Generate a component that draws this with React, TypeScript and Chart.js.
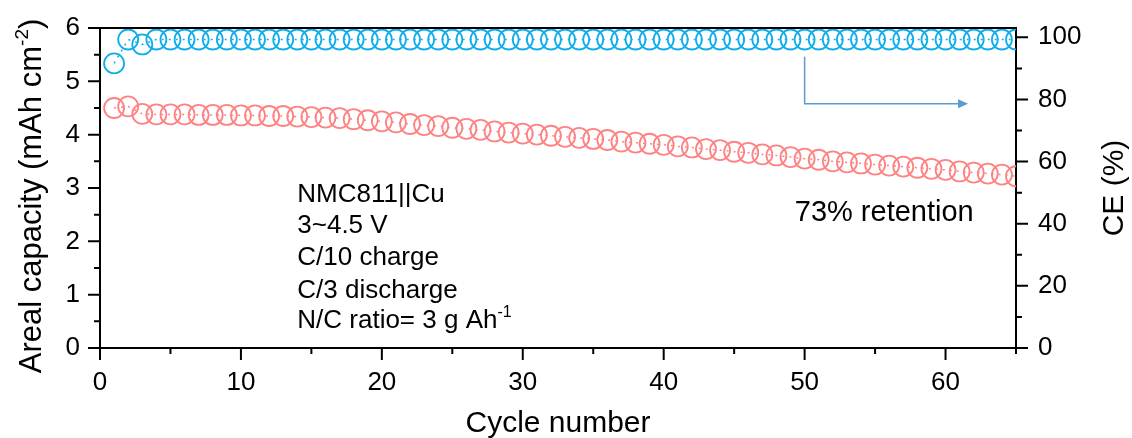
import { useEffect, useRef } from "react";
import { Chart, registerables } from "chart.js";

Chart.register(...registerables);

// Cycle index, discharge areal capacity (mAh cm^-2) and coulombic efficiency (%)
const cycleNumbers = [
  1, 2, 3, 4, 5, 6, 7, 8, 9, 10, 11, 12, 13, 14, 15, 16, 17, 18, 19, 20, 21, 22,
  23, 24, 25, 26, 27, 28, 29, 30, 31, 32, 33, 34, 35, 36, 37, 38, 39, 40, 41, 42,
  43, 44, 45, 46, 47, 48, 49, 50, 51, 52, 53, 54, 55, 56, 57, 58, 59, 60, 61, 62,
  63, 64, 65,
];

const arealCapacity = [
  4.5, 4.53, 4.39, 4.38, 4.38, 4.38, 4.37, 4.37, 4.37, 4.36, 4.36, 4.35, 4.35,
  4.34, 4.33, 4.32, 4.31, 4.29, 4.27, 4.25, 4.23, 4.2, 4.18, 4.16, 4.13, 4.11,
  4.09, 4.06, 4.04, 4.02, 4.0, 3.98, 3.96, 3.94, 3.92, 3.9, 3.87, 3.85, 3.83,
  3.81, 3.78, 3.76, 3.73, 3.71, 3.68, 3.66, 3.63, 3.61, 3.58, 3.55, 3.53, 3.5,
  3.48, 3.46, 3.44, 3.42, 3.4, 3.38, 3.36, 3.34, 3.31, 3.29, 3.27, 3.25, 3.22,
];

const coulombicEfficiency = [
  91.6, 99.3, 97.7, 99.3, 99.3, 99.3, 99.3, 99.3, 99.3, 99.3, 99.3, 99.3, 99.3,
  99.3, 99.3, 99.3, 99.3, 99.3, 99.3, 99.3, 99.3, 99.3, 99.3, 99.3, 99.3, 99.3,
  99.3, 99.3, 99.3, 99.3, 99.3, 99.3, 99.3, 99.3, 99.3, 99.3, 99.3, 99.3, 99.3,
  99.3, 99.3, 99.3, 99.3, 99.3, 99.3, 99.3, 99.3, 99.3, 99.3, 99.3, 99.3, 99.3,
  99.3, 99.3, 99.3, 99.3, 99.3, 99.3, 99.3, 99.3, 99.3, 99.3, 99.3, 99.3, 99.3,
];

const xTickValues = [0, 10, 20, 30, 40, 50, 60];
const capacityTickValues = [0, 1, 2, 3, 4, 5, 6];
const ceTickValues = [0, 20, 40, 60, 80, 100];

const conditionLines = [
  "NMC811||Cu",
  "3~4.5 V",
  "C/10 charge",
  "C/3 discharge",
  "N/C ratio= 3 g Ah",
];
const conditionSuperscript = "-1";
const retentionLabel = "73% retention";

const FONT = "'Liberation Sans', Arial, sans-serif";
const RED = "#FF8282";
const BLUE = "#0FAEEB";
const ARROW = "#5B9BD5";

type Segment = { text: string; sup?: boolean };

function drawRich(
  ctx: CanvasRenderingContext2D,
  segs: Segment[],
  size: number,
  x: number,
  y: number,
  align: "left" | "center"
) {
  const supSize = Math.round(size * 0.62);
  let total = 0;
  const widths = segs.map((s) => {
    ctx.font = `${s.sup ? supSize : size}px ${FONT}`;
    const w = ctx.measureText(s.text).width;
    total += w;
    return w;
  });
  let cx = align === "center" ? x - total / 2 : x;
  ctx.textBaseline = "alphabetic";
  ctx.textAlign = "left";
  segs.forEach((s, i) => {
    ctx.font = `${s.sup ? supSize : size}px ${FONT}`;
    ctx.fillText(s.text, cx, s.sup ? y - size * 0.42 : y);
    cx += widths[i];
  });
}

// fixed axis footprints so the plot frame sits at a constant place
function fixSize(dim: "width" | "height", value: number) {
  return (s: any) => {
    s[dim] = value;
    s.paddingTop = 0;
    s.paddingBottom = 0;
    s.paddingLeft = 0;
    s.paddingRight = 0;
  };
}

const decorPlugin = {
  id: "decor",
  afterDraw(chart: any) {
    const { ctx, chartArea } = chart;
    const xs = chart.scales.x;
    const ys = chart.scales.y;
    const y1 = chart.scales.y1;
    ctx.save();
    ctx.strokeStyle = "#000";
    ctx.fillStyle = "#000";
    ctx.lineWidth = 2;

    // top frame line
    ctx.beginPath();
    ctx.moveTo(chartArea.left - 1, chartArea.top);
    ctx.lineTo(chartArea.right + 1, chartArea.top);
    ctx.stroke();

    // tick marks (major + minor)
    ctx.beginPath();
    for (let v = 0; v <= 65; v += 5) {
      const px = xs.getPixelForValue(v);
      const len = v % 10 === 0 ? 12 : 6;
      ctx.moveTo(px, chartArea.bottom);
      ctx.lineTo(px, chartArea.bottom + len);
    }
    for (let i = 0; i <= 12; i++) {
      const v = i * 0.5;
      const py = ys.getPixelForValue(v);
      const len = i % 2 === 0 ? 12 : 6;
      ctx.moveTo(chartArea.left, py);
      ctx.lineTo(chartArea.left - len, py);
    }
    for (let v = 0; v <= 100; v += 10) {
      const py = y1.getPixelForValue(v);
      const len = v % 20 === 0 ? 12 : 6;
      ctx.moveTo(chartArea.right, py);
      ctx.lineTo(chartArea.right + len, py);
    }
    ctx.stroke();

    // axis titles
    ctx.save();
    ctx.translate(31, 196);
    ctx.rotate(-Math.PI / 2);
    drawRich(
      ctx,
      [
        { text: "Areal capacity (mAh cm" },
        { text: "-2", sup: true },
        { text: ")" },
      ],
      31,
      0,
      10,
      "center"
    );
    ctx.restore();

    ctx.save();
    ctx.translate(1113, (chartArea.top + chartArea.bottom) / 2);
    ctx.rotate(-Math.PI / 2);
    drawRich(ctx, [{ text: "CE (%)" }], 30, 0, 10, "center");
    ctx.restore();

    drawRich(
      ctx,
      [{ text: "Cycle number" }],
      30,
      (chartArea.left + chartArea.right) / 2,
      432,
      "center"
    );

    // cell conditions
    const tx = xs.getPixelForValue(14);
    const lineYs = [2.73, 2.16, 1.56, 0.94, 0.37];
    conditionLines.forEach((line, i) => {
      const segs: Segment[] = [{ text: line }];
      if (i === conditionLines.length - 1)
        segs.push({ text: conditionSuperscript, sup: true });
      drawRich(ctx, segs, 26, tx, ys.getPixelForValue(lineYs[i]), "left");
    });

    drawRich(
      ctx,
      [{ text: retentionLabel }],
      29,
      xs.getPixelForValue(49.3),
      ys.getPixelForValue(2.38),
      "left"
    );

    // arrow pointing CE series to the right axis
    const ax = xs.getPixelForValue(50);
    const ay0 = ys.getPixelForValue(5.46);
    const ay1 = ys.getPixelForValue(4.58);
    const ax1 = xs.getPixelForValue(61.6);
    ctx.strokeStyle = ARROW;
    ctx.fillStyle = ARROW;
    ctx.lineWidth = 1.5;
    ctx.beginPath();
    ctx.moveTo(ax, ay0);
    ctx.lineTo(ax, ay1);
    ctx.lineTo(ax1 - 8, ay1);
    ctx.stroke();
    ctx.beginPath();
    ctx.moveTo(ax1, ay1);
    ctx.lineTo(ax1 - 10, ay1 - 4.5);
    ctx.lineTo(ax1 - 10, ay1 + 4.5);
    ctx.closePath();
    ctx.fill();

    ctx.restore();
  },
};

export default function App() {
  const canvasRef = useRef<HTMLCanvasElement | null>(null);

  useEffect(() => {
    const canvas = canvasRef.current;
    if (!canvas) return;
    const tickFont = { family: FONT, size: 26 };
    const chart = new Chart(canvas, {
      type: "line",
      data: {
        datasets: [
          {
            label: "Areal capacity",
            data: cycleNumbers.map((c, i) => ({ x: c, y: arealCapacity[i] })),
            yAxisID: "y",
            borderColor: RED,
            backgroundColor: "rgba(0,0,0,0)",
            borderWidth: 1.5,
            borderDash: [2, 5],
            pointStyle: "circle",
            pointRadius: 10,
            pointBorderWidth: 1.8,
            pointBorderColor: RED,
            pointBackgroundColor: "rgba(0,0,0,0)",
            tension: 0,
          },
          {
            label: "CE",
            data: cycleNumbers.map((c, i) => ({
              x: c,
              y: coulombicEfficiency[i],
            })),
            yAxisID: "y1",
            borderColor: BLUE,
            backgroundColor: "rgba(0,0,0,0)",
            borderWidth: 1.5,
            borderDash: [2, 5],
            pointStyle: "circle",
            pointRadius: 10,
            pointBorderWidth: 1.8,
            pointBorderColor: BLUE,
            pointBackgroundColor: "rgba(0,0,0,0)",
            tension: 0,
          },
        ],
      },
      options: {
        animation: false,
        responsive: true,
        maintainAspectRatio: false,
        layout: {
          padding: { top: 28, left: 0, right: 0, bottom: 0 },
        },
        plugins: {
          legend: { display: false },
          tooltip: { enabled: false },
        },
        scales: {
          x: {
            type: "linear",
            min: 0,
            max: 65,
            afterFit: fixSize("height", 90),
            afterBuildTicks: (s: any) => {
              s.ticks = xTickValues.map((v) => ({ value: v }));
            },
            grid: { display: false, drawTicks: false },
            border: { display: true, color: "#000", width: 2 },
            ticks: {
              color: "#000",
              font: tickFont,
              padding: 19,
              autoSkip: false,
              maxRotation: 0,
            },
          },
          y: {
            type: "linear",
            position: "left",
            min: 0,
            max: 6,
            afterFit: fixSize("width", 100),
            afterBuildTicks: (s: any) => {
              s.ticks = capacityTickValues.map((v) => ({ value: v }));
            },
            grid: { display: false, drawTicks: false },
            border: { display: true, color: "#000", width: 2 },
            ticks: { color: "#000", font: tickFont, padding: 20, autoSkip: false },
          },
          y1: {
            type: "linear",
            position: "right",
            min: 0,
            max: 103,
            afterFit: fixSize("width", 116),
            afterBuildTicks: (s: any) => {
              s.ticks = ceTickValues.map((v) => ({ value: v }));
            },
            grid: { display: false, drawTicks: false },
            border: { display: true, color: "#000", width: 2 },
            ticks: { color: "#000", font: tickFont, padding: 22, autoSkip: false },
          },
        },
      },
      plugins: [decorPlugin],
    });
    return () => chart.destroy();
  }, []);

  return (
    <div
      style={{
        position: "absolute",
        left: 0,
        top: 0,
        width: 1132,
        height: 438,
        background: "#fff",
      }}
    >
      <canvas ref={canvasRef} />
    </div>
  );
}
